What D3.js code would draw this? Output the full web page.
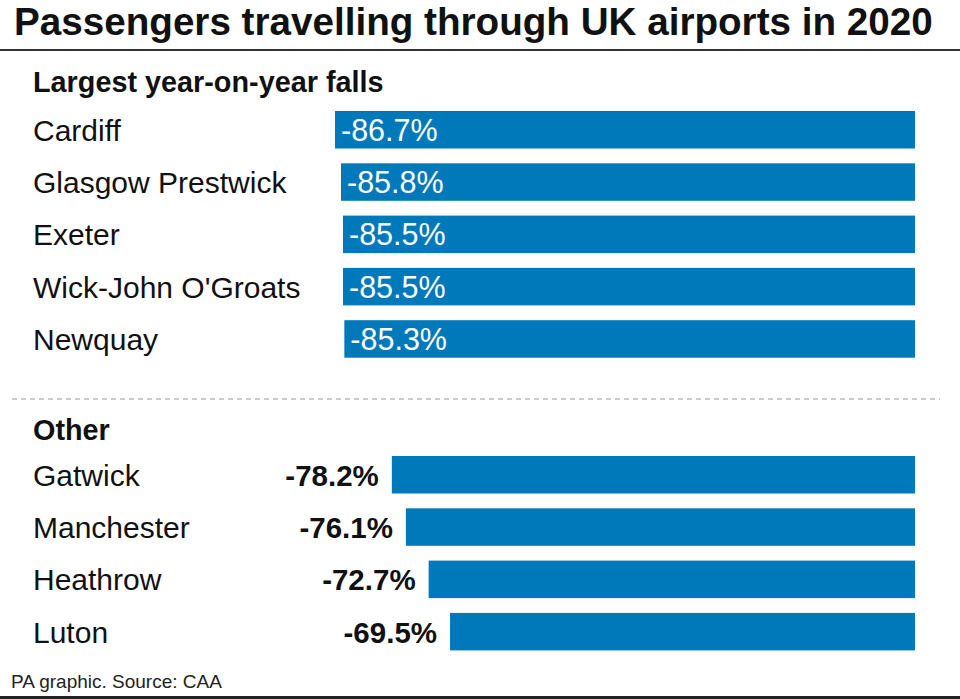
<!DOCTYPE html>
<html>
<head>
<meta charset="utf-8">
<script src="https://cdn.jsdelivr.net/npm/d3@7"></script>
<style>
  html, body { margin: 0; padding: 0; background: #fff; }
  svg { display: block; font-family: "Liberation Sans", Arial, Helvetica, sans-serif; }
</style>
</head>
<body>
<svg id="chart" width="960" height="699"></svg>
<script>
const title = "Passengers travelling through UK airports in 2020";
const topHeading = "Largest year-on-year falls";
const otherHeading = "Other";
const source = "PA graphic. Source: CAA";

const topNames = ["Cardiff", "Glasgow Prestwick", "Exeter", "Wick-John O'Groats", "Newquay"];
const topValues = [-86.7, -85.8, -85.5, -85.5, -85.3];

const otherNames = ["Gatwick", "Manchester", "Heathrow", "Luton"];
const otherValues = [-78.2, -76.1, -72.7, -69.5];

const barColor = "#0079BA";
const svg = d3.select("#chart");

// Title
const t = svg.append("text")
  .attr("x", 14).attr("y", 35)
  .attr("font-weight", "bold")
  .attr("font-size", 35)
  .attr("fill", "#111")
  .text(title);
const tw = t.node().getComputedTextLength();
t.attr("font-size", 35 * 919 / tw);

svg.append("line").attr("x1", 0).attr("x2", 960).attr("y1", 50).attr("y2", 50)
  .attr("stroke", "#333").attr("stroke-width", 2);

const x = d3.scaleLinear().domain([-100, 0]).range([246, 915]);

function section(names, values, top, labelsInside) {
  const step = 52.3, bh = 37.5;
  const y = d3.scaleBand().domain(names)
    .range([top, top + (names.length - 1) * step + bh])
    .paddingInner((step - bh) / step).paddingOuter(0);
  const g = svg.append("g");
  const rows = g.selectAll("g").data(names.map((n, i) => ({ n, v: values[i] }))).join("g");
  rows.append("rect")
    .attr("x", d => x(d.v))
    .attr("y", d => y(d.n))
    .attr("width", d => x(0) - x(d.v))
    .attr("height", y.bandwidth())
    .attr("fill", barColor);
  rows.append("text")
    .attr("x", 33)
    .attr("y", d => y(d.n) + y.bandwidth() / 2 + 11)
    .attr("font-size", 30)
    .attr("fill", "#111")
    .text(d => d.n);
  if (labelsInside) {
    rows.append("text")
      .attr("x", d => x(d.v) + 6)
      .attr("y", d => y(d.n) + y.bandwidth() / 2 + 11)
      .attr("font-size", 30.5)
      .attr("fill", "#fff")
      .text(d => d.v.toFixed(1) + "%");
  } else {
    rows.append("text")
      .attr("x", d => x(d.v) - 13)
      .attr("y", d => y(d.n) + y.bandwidth() / 2 + 11)
      .attr("text-anchor", "end")
      .attr("font-size", 29.5)
      .attr("font-weight", "bold")
      .attr("fill", "#111")
      .text(d => d.v.toFixed(1) + "%");
  }
}

svg.append("text").attr("x", 33).attr("y", 92)
  .attr("font-size", 28.8).attr("font-weight", "bold").attr("fill", "#111")
  .text(topHeading);
section(topNames, topValues, 111, true);

svg.append("line").attr("x1", 12).attr("x2", 940).attr("y1", 399).attr("y2", 399)
  .attr("stroke", "#999").attr("stroke-width", 1.2).attr("stroke-dasharray", "5,4");

svg.append("text").attr("x", 33).attr("y", 440)
  .attr("font-size", 28.8).attr("font-weight", "bold").attr("fill", "#111")
  .text(otherHeading);
section(otherNames, otherValues, 456, false);

svg.append("text").attr("x", 11).attr("y", 688)
  .attr("font-size", 19).attr("fill", "#222")
  .text(source);

svg.append("line").attr("x1", 0).attr("x2", 960).attr("y1", 697.5).attr("y2", 697.5)
  .attr("stroke", "#222").attr("stroke-width", 3);
</script>
</body>
</html>
